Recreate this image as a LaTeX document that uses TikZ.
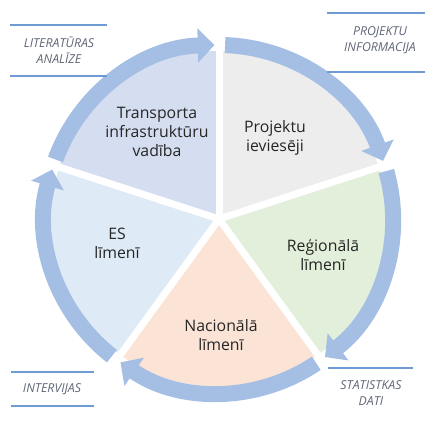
\documentclass[tikz,border=0pt]{standalone}
\usepackage{fontspec}
\setmainfont{Open Sans}
\usetikzlibrary{arrows.meta,calc}

\definecolor{ringblue}{RGB}{164,190,228}
\definecolor{secTransp}{RGB}{213,222,240}
\definecolor{secProj}{RGB}{237,237,237}
\definecolor{secReg}{RGB}{226,239,218}
\definecolor{secNac}{RGB}{251,228,214}
\definecolor{secES}{RGB}{222,235,246}
\definecolor{tagblue}{RGB}{110,155,212}
\definecolor{taggrey}{RGB}{95,102,118}

\tikzset{
  stage/.style={align=center,text=black!85,font=\fontsize{13.5}{16}\selectfont},
  tag/.style={align=center,text=taggrey,font=\fontsize{10.5}{14}\selectfont\itshape},
  tagline/.style={tagblue,line width=2pt},
  ring/.style={ringblue,line width=0.48cm,-{Triangle[length=0.5cm,width=1.0cm]}},
}

\begin{document}
\begin{tikzpicture}[x=0.03cm,y=0.03cm]
  \useasboundingbox (0,0) rectangle (425,424);

  \coordinate (c) at (219,205);

  % pie
  \foreach \a/\col in {90/secProj,18/secReg,-54/secNac,234/secES,162/secTransp} {
    \fill[\col] (c) -- ($ (c) + (\a:168) $) arc[start angle=\a,end angle=\a-72,radius=168] -- cycle;
  }
  \foreach \a in {90,18,-54,-126,162} {
    \draw[white,line width=0.21cm] (c) -- ($ (c) + (\a:195) $);
  }

  % arrows round the pie
  \foreach \a in {162,90,18,-54,-126} {
    \draw[ring] ($ (c) + (\a-2:174) $) arc[start angle=\a-2,end angle=\a-70.5,radius=174];
  }

  \node[stage] (transp) at (157,292) {Transporta\\infrastruktūru\\vadība};
  \node[stage] (proj) at (275,286) {Projektu\\ieviesēji};
  \node[stage] (reg) at (323,169) {Reģionālā\\līmenī};
  \node[stage] (nac) at (221,89) {Nacionālā\\līmenī};
  \node[stage] (es) at (117,181) {ES\\līmenī};

  % sources
  \node[tag] (lit) at (59,374) {LITERATŪRAS\\ANALĪZE};
  \draw[tagline] (10,399) -- (107,399);
  \draw[tagline] (10,348) -- (107,348);

  \node[tag] (info) at (380,384) {PROJEKTU\\INFORMACIJA};
  \draw[tagline] (327,411) -- (425,411);
  \draw[tagline] (327,352) -- (425,352);

  \node[tag] (interv) at (52,35) {INTERVIJAS};
  \draw[tagline] (11,52) -- (94,52);
  \draw[tagline] (11,18) -- (94,18);

  \node[tag] (stat) at (371,31) {STATISTKAS\\DATI};
  \draw[tagline] (328,56) -- (413,56);
\end{tikzpicture}
\end{document}
